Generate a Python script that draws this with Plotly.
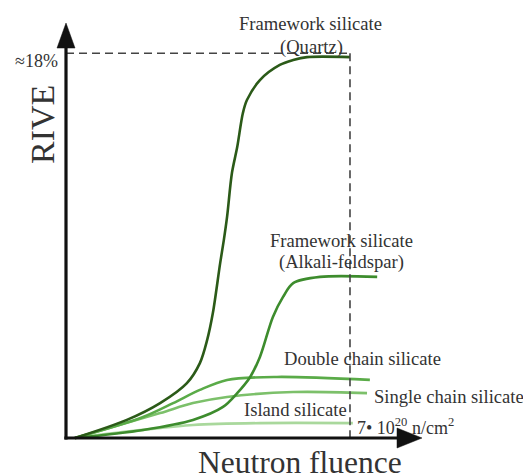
import plotly.graph_objects as go

# Neutron fluence in units of 1e20 n/cm^2, RIVE in %
quartz_x = [0.22, 1.50, 2.32, 2.98, 3.30, 3.48, 3.62, 3.80, 3.89, 3.97, 4.09, 4.22, 4.36, 4.46, 4.78, 5.27, 5.60, 5.94, 7.00]
quartz_y = [0.00, 0.85, 1.64, 2.58, 3.52, 4.61, 5.87, 8.22, 9.30, 10.39, 12.45, 13.67, 15.27, 15.88, 16.82, 17.53, 17.76, 17.90, 17.90]

feldspar_x = [0.22, 1.90, 3.13, 3.87, 4.22, 4.54, 4.78, 5.10, 5.35, 5.60, 6.26, 7.67]
feldspar_y = [0.00, 0.38, 0.85, 1.46, 2.11, 2.87, 3.81, 5.69, 6.63, 7.28, 7.57, 7.57]

double_x = [0.22, 1.90, 2.64, 3.30, 3.97, 5.20, 7.49]
double_y = [0.00, 0.99, 1.64, 2.26, 2.73, 2.87, 2.73]

single_x = [0.22, 2.32, 3.13, 3.97, 5.60, 7.42]
single_y = [0.00, 1.17, 1.64, 1.93, 2.16, 2.11]

island_x = [0.22, 1.90, 3.13, 4.78, 7.07]
island_y = [0.00, 0.38, 0.61, 0.70, 0.70]

fluence_mark = 7.0     # 7e20 n/cm^2
rive_max = 18.0        # ~18 %
x_end = 8.775          # arrow tips of the axes
y_end = 19.5

series = [
    (island_x, island_y, "#a9d89c"),
    (single_x, single_y, "#7cc06a"),
    (double_x, double_y, "#5aab48"),
    (feldspar_x, feldspar_y, "#3d8c2d"),
    (quartz_x, quartz_y, "#2b5a18"),
]

fig = go.Figure()
for xs, ys, col in series:
    fig.add_trace(go.Scatter(x=xs, y=ys, mode="lines",
                             line=dict(color=col, width=2.6, shape="spline", smoothing=0.9),
                             hoverinfo="skip", showlegend=False))

px_x = 40.57   # pixels per x unit
px_y = 21.28   # pixels per y unit
ink = "#111111"
dash = "#444444"

shapes = [
    # dashed guides
    dict(type="line", x0=0, x1=fluence_mark, y0=rive_max + 0.08, y1=rive_max + 0.08,
         line=dict(color=dash, width=1.6, dash="8px,5px")),
    dict(type="line", x0=fluence_mark, x1=fluence_mark, y0=rive_max + 0.08, y1=0,
         line=dict(color=dash, width=1.6, dash="8px,5px")),
    # axes
    dict(type="line", x0=0, x1=0, y0=-0.07, y1=y_end - 20 / px_y, line=dict(color=ink, width=3.2)),
    dict(type="line", x0=-0.04, x1=x_end - 20 / px_x, y0=0, y1=0, line=dict(color=ink, width=3.2)),
    # arrow heads
    dict(type="path", fillcolor=ink, line=dict(color=ink, width=0.5),
         path=f"M 0,{y_end} L {-9/px_x},{y_end-25/px_y} L {9/px_x},{y_end-25/px_y} Z"),
    dict(type="path", fillcolor=ink, line=dict(color=ink, width=0.5),
         path=f"M {x_end},0 L {x_end-25/px_x},{10/px_y} L {x_end-25/px_x},{-10/px_y} Z"),
]

def X(p):
    return (p - 66) / px_x

def Y(p):
    return (438 - p) / px_y

font_family = "Liberation Serif, Times New Roman, serif"
txt = "#333333"

def note(text, px, py, size=18.6, xanchor="center", **kw):
    return dict(text=text, x=X(px), y=Y(py), xref="x", yref="y", showarrow=False,
                xanchor=xanchor, yanchor="middle",
                font=dict(family=font_family, size=size, color=txt), **kw)

annotations = [
    note("Framework silicate", 310, 23),
    note("(Quartz)", 311, 47),
    note("Framework silicate", 341, 240),
    note("(Alkali-feldspar)", 341, 262),
    note("Double chain silicate", 362, 358),
    note("Single chain silicate", 372, 396, xanchor="left"),
    note("Island silicate", 295, 409),
    note("7\u2022 10<sup>20</sup> n/cm<sup>2</sup>", 355, 426, size=18, xanchor="left"),
    note("\u224818%", 60, 61, size=18, xanchor="right"),
    note("RIVE", 42, 125, size=34, textangle=-90),
    note("Neutron fluence", 300, 462, size=31.5),
]

fig.update_layout(
    width=523, height=475,
    margin=dict(l=0, r=0, t=0, b=0),
    paper_bgcolor="white", plot_bgcolor="white",
    xaxis=dict(range=[X(0), X(523)], visible=False, fixedrange=True),
    yaxis=dict(range=[Y(475), Y(0)], visible=False, fixedrange=True),
    shapes=shapes,
    annotations=annotations,
)

fig.write_html("out.html")
